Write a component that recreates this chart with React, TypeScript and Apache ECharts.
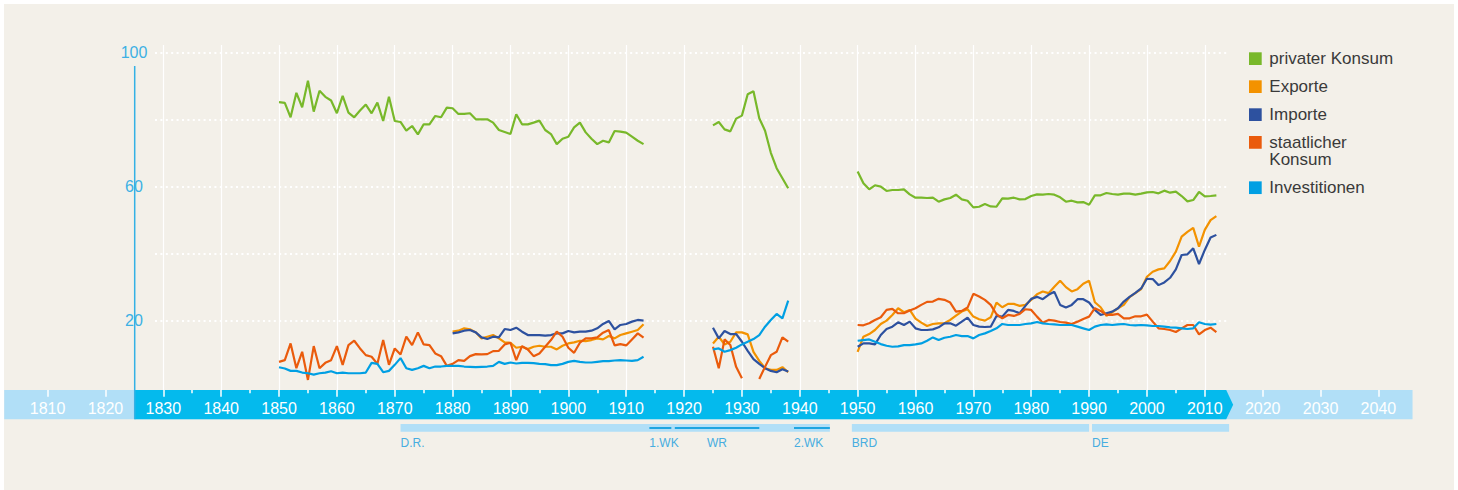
import React, { useEffect, useRef } from "react";
import * as echarts from "echarts";

// ---------- data ----------
const SERIES_NAMES = ["privater Konsum", "Exporte", "Importe", "staatlicher Konsum", "Investitionen"];
const COLORS = ["#78b82a", "#f39200", "#2d519f", "#ea5b0c", "#009fe3"];

// first year of each data segment
const START_A = 1850; // Kaiserreich (privat, staat, invest)
const START_A_TRADE = 1880; // Kaiserreich (exports / imports)
const START_B = 1925; // Weimar / NS
const START_C = 1950; // BRD / DE

const privatA = [
  85.1, 84.9, 80.6, 87.9, 83.6, 91.5, 82.3, 88.5, 86.7, 85.6,
  81.8, 87, 82, 80.6, 82.6, 84.4, 81.8, 85, 79.5, 86.7,
  79.5, 79.2, 76.6, 78, 75.5, 78.5, 78.5, 81, 80.6, 83.5,
  83.3, 81.6, 81.6, 81.8, 80, 80, 80, 79, 76.8, 76.2,
  75.6, 81.5, 78.5, 78.5, 79, 79.6, 76.8, 75.6, 72.6, 74.2,
  74.8, 77.6, 79, 76.1, 74.2, 72.6, 73.6, 73.1, 76.5, 76.3,
  76, 74.8, 73.6, 72.6,
];
const privatB = [78.2, 79.2, 77, 76.4, 80.2, 81.1, 87.5, 88.4, 80.3, 76.6, 70, 65.4, 62.4, 59.4];
const privatC = [
  64.4, 60.9, 59.1, 60.3, 59.9, 58.6, 58.9, 58.9, 59.1, 57.6,
  56.6, 56.6, 56.5, 56.6, 55.4, 56.1, 56.5, 57.5, 56.1, 55.7,
  53.7, 53.9, 54.7, 54, 53.9, 56.4, 56.3, 56.6, 56.1, 56.2,
  57.1, 57.6, 57.5, 57.7, 57.5, 56.7, 55.4, 55.7, 55.2, 55.3,
  54.5, 57.3, 57.3, 58, 57.7, 57.5, 57.8, 57.8, 57.5, 57.8,
  58.2, 58.3, 57.9, 58.7, 58.1, 58.4, 57.1, 55.5, 55.9, 58.3,
  57, 57.1, 57.3,
];

const exportA = [
  16.6, 16.9, 17.6, 17.3, 16.4, 14.6, 15.1, 15.6, 14.6, 13.4,
  13.3, 11.8, 12.1, 11.4, 12.1, 12.4, 12.1, 12.1, 11.3, 12.4,
  13.1, 13.4, 13.9, 13.8, 14.1, 14.6, 14.3, 15.3, 14.6, 15.6,
  16.1, 16.6, 17.1, 18.8,
];
const exportB = [13.1, 15.1, 12.8, 13.6, 16.4, 16.4, 15.8, 10.6, 7.9, 5.7, 5.2, 5.2, 6, 4.5];
const exportC = [
  10.6, 15.1, 15.9, 17.1, 18.9, 19.9, 21.6, 23.6, 22.4, 23.1,
  20.5, 19.3, 18.3, 18.9, 19.1, 19.1, 20.1, 21.4, 22.6, 23.3,
  21.1, 20.3, 19.9, 20.9, 25.3, 23.9, 24.9, 24.9, 24.3, 24.6,
  26.1, 27.8, 28.6, 28.1, 30, 31.8, 29.9, 28.6, 29.3, 30.9,
  31.8, 25.4, 23.9, 21.3, 22.4, 23.6, 24.6, 26.9, 28.1, 29.3,
  33, 34.5, 35.2, 35.5, 37.7, 40.5, 45, 46.4, 47.6, 42,
  47, 49.9, 51.1,
];

const importA = [
  16.1, 16.4, 16.9, 17.1, 16.4, 14.9, 14.4, 15.1, 14.9, 17.4,
  17.1, 17.8, 16.6, 15.6, 15.6, 15.6, 15.4, 15.6, 16.1, 16.1,
  16.8, 16.4, 16.6, 16.6, 16.9, 17.6, 18.9, 19.8, 17.3, 18.6,
  18.9, 19.6, 20.1, 19.9,
];
const importB = [17.8, 14.6, 16.8, 15.9, 15.9, 13.6, 10.9, 8.4, 7, 5.7, 4.9, 4.5, 5.4, 4.7];
const importC = [
  12.1, 13.1, 13.1, 12.8, 15.6, 17.4, 18.1, 19.4, 18.6, 19.6,
  17.6, 17.1, 17.1, 17.3, 17.9, 19.1, 19.1, 18.4, 19.6, 20.8,
  18.6, 18.1, 18, 18.1, 21.3, 21.1, 23.1, 22.8, 22.1, 24.3,
  26.4, 27, 26.3, 27.6, 28.5, 24.6, 23.8, 24.6, 26.3, 26.3,
  25.3, 23.1, 21.6, 22.1, 22.6, 23.6, 25.6, 27, 28.2, 29.5,
  32.4, 32.3, 30.5, 31.3, 32.7, 35.2, 39.5, 39.7, 41.5, 36.8,
  41, 44.7, 45.5,
];

const staatA = [
  7.6, 8.1, 13.1, 5.7, 10.6, 2.2, 12.3, 5.7, 7.3, 8.1,
  12.3, 6.7, 12.6, 13.9, 11.6, 9.6, 9.1, 7, 14.1, 6.7,
  11.6, 9.8, 15.1, 12.6, 16.4, 12.8, 12.6, 10.1, 9.3, 6.4,
  7, 8.1, 7.9, 9.3, 9.9, 9.8, 9.9, 10.8, 10.9, 12.8,
  13.3, 8.1, 12.3, 11.3, 9.3, 10.1, 12.1, 14.1, 16.6, 15.1,
  11.8, 10.3, 13.3, 14.6, 14.6, 14.9, 16.3, 17.1, 12.5, 12.9,
  12.5, 14.3, 16.1, 14.8,
];
const staatB = [12.1, 5.7, 14.3, 12.6, 6.1, 2.7, null, null, 2.5, 6.1, 9.6, 10.6, 14.9, 13.6];
const staatC = [
  18.6, 18.5, 19.1, 20.1, 20.9, 23.1, 23.4, 22.1, 22.1, 22.9,
  23.6, 24.6, 25.5, 25.6, 26.4, 26.1, 25.3, 22.6, 22.8, 23.8,
  27.9, 27.1, 26.1, 24.6, 21.8, 20.6, 21.6, 21.3, 21.9, 23.3,
  23.1, 21.1, 19.3, 20.1, 19.9, 19.5, 19.3, 18.9, 19.6, 20.4,
  21.1, 23.6, 22.8, 21.6, 21.6, 21.9, 20.6, 20.6, 21.2, 21.2,
  21.7, 19.6, 17.6, 17.4, 17.1, 16.5, 17.6, 18.6, 18.6, 15.8,
  17.1, 17.8, 16.5,
];

const investA = [
  6, 5.6, 4.9, 4.9, 4.4, 4.2, 3.8, 4.2, 4.4, 4.8,
  4.2, 4.4, 4.2, 4.2, 4.2, 4.4, 7.3, 7, 4.5, 4.9,
  6.7, 8.7, 5.7, 5.2, 5.7, 6.4, 5.7, 6.2, 6.2, 6.4,
  6.4, 6.4, 6.2, 6.1, 6, 6.1, 6.2, 6.4, 7.6, 7,
  7.4, 7.1, 7.3, 7.3, 7.2, 7, 6.9, 6.6, 6.6, 7,
  7.6, 7.9, 7.6, 7.4, 7.4, 7.6, 7.8, 7.8, 8, 8.1,
  8, 7.9, 8.1, 9.1,
];
const investB = [11.3, 11.6, 10.6, 11.1, 11.8, 12.8, 13.6, 14.4, 15.6, 18.1, 20.1, 21.9, 20.6, 25.9];
const investC = [
  13.9, 14.1, 14.3, 13.6, 12.9, 12.4, 12.1, 12.2, 12.6, 12.6,
  12.8, 13.1, 13.9, 14.9, 14.1, 14.8, 15.1, 15.6, 15.3, 15.3,
  14.6, 15.6, 16.1, 16.8, 17.6, 18.9, 18.6, 18.6, 18.6, 18.9,
  19.1, 19.5, 19.1, 18.9, 18.8, 18.6, 18.6, 18.6, 18.1, 17.6,
  17.1, 18.1, 18.6, 18.8, 18.6, 18.8, 18.9, 18.6, 18.5, 18.6,
  18.5, 18.3, 18.3, 18.1, 17.9, 17.8, 17.6, 17.4, 17.6, 19.4,
  18.9, 18.7, 18.9,
];

const Y_LABELS = [100, 60, 20];

// timeline (years)
const TIMELINE_LIGHT = [[1802.5, 2045.9]];
const TIMELINE_DARK = [[1825.06, 2013.7, 2014.9]];

const PERIOD_NAMES = ["D.R.", "BRD", "DE"];
const PERIOD_FROM = [1871, 1949, 1990.5];
const PERIOD_TO = [1945.2, 1990, 2014.2];

const SUB_NAMES = ["1.WK", "WR", "2.WK"];
const SUB_FROM = [1914, 1918.4, 1939];
const SUB_TO = [1917.8, 1933, 1945.2];

// ---------- helpers ----------
type Pt = [number, number | null];
function seg(start: number, values: (number | null)[]): Pt[] {
  return values.map((v, i) => [start + i, v] as Pt);
}
function joinSegs(...segs: Pt[][]): Pt[] {
  const out: Pt[] = [];
  segs.forEach((s, i) => {
    if (i > 0) out.push([s[0][0] - 1, null]);
    out.push(...s);
  });
  return out;
}

const SERIES_DATA: Pt[][] = [
  joinSegs(seg(START_A, privatA), seg(START_B, privatB), seg(START_C, privatC)),
  joinSegs(seg(START_A_TRADE, exportA), seg(START_B, exportB), seg(START_C, exportC)),
  joinSegs(seg(START_A_TRADE, importA), seg(START_B, importB), seg(START_C, importC)),
  joinSegs(seg(START_A, staatA), seg(START_B, staatB), seg(START_C, staatC)),
  joinSegs(seg(START_A, investA), seg(START_B, investB), seg(START_C, investC)),
];

const FONT = '"Liberation Sans", Arial, Helvetica, sans-serif';
const TALL_ICON =
  "path://M0,0L12.7,0L12.7,0.01L0,0.01ZM0,2.3L12.7,2.3L12.7,15L0,15ZM0,34.59L12.7,34.59L12.7,34.6L0,34.6Z";

export default function App() {
  const ref = useRef<HTMLDivElement>(null);

  useEffect(() => {
    if (!ref.current) return;
    const chart = echarts.init(ref.current, undefined, { renderer: "svg" });

    const legendBase = {
      orient: "vertical",
      left: 1249,
      padding: 0,
      itemWidth: 12.7,
      itemHeight: 12.7,
      itemGap: 10.7,
      icon: "rect",
      selectedMode: false,
      itemStyle: { borderWidth: 0 },
      textStyle: { fontSize: 17, lineHeight: 17.3, color: "#3a3a3a", fontFamily: FONT, padding: [0, 0, 0, 2.6] },
    };

    const option: any = {
      animation: false,
      textStyle: { fontFamily: FONT },
      grid: [
        { left: 155, top: 52.3, width: 1073, height: 335 },
        { left: 163.3, top: 45, width: 1041.5, height: 345 },
        { left: 47.6, top: 390, width: 1330.8, height: 29.3 },
        { left: 47.6, top: 424, width: 1330.8, height: 30 },
      ],
      xAxis: [
        { gridIndex: 0, type: "value", min: 1828.566, max: 2014.01, show: false },
        {
          gridIndex: 1,
          type: "value",
          min: 1830,
          max: 2010,
          interval: 10,
          axisLine: { show: false, onZero: false },
          axisTick: { show: false },
          axisLabel: { show: false },
          splitLine: { show: true, lineStyle: { color: "#ffffff", width: 1.2 } },
          minorTick: { show: true, splitNumber: 2, length: 3.3, lineStyle: { color: "#ffffff", width: 1.5 } },
        },
        {
          gridIndex: 2,
          type: "value",
          position: "top",
          min: 1810,
          max: 2040,
          interval: 10,
          axisLine: { show: false, onZero: false },
          axisTick: { show: true, inside: true, length: 6.7, lineStyle: { color: "#ffffff", width: 1.5 } },
          axisLabel: {
            inside: true,
            margin: 10,
            color: "#ffffff",
            fontSize: 16,
            showMinLabel: true,
            showMaxLabel: true,
            formatter: (v: number) => String(v),
          },
          splitLine: { show: false },
        },
        { gridIndex: 3, type: "value", min: 1810, max: 2040, show: false },
      ],
      yAxis: [
        {
          gridIndex: 0,
          type: "value",
          min: 0,
          max: 100,
          interval: 20,
          axisLine: { show: false },
          axisTick: { show: false },
          axisLabel: {
            margin: 21,
            align: "center",
            color: "#3db1e4",
            fontSize: 16,
            formatter: (v: number) => (Y_LABELS.indexOf(v) >= 0 ? String(v) : ""),
          },
          splitLine: { show: true, showMinLine: false, lineStyle: { color: "#ffffff", width: 2, type: [2, 3.4] } },
        },
        { gridIndex: 1, type: "value", min: 0, max: 1, show: false },
        { gridIndex: 2, type: "value", min: 0, max: 1, show: false },
        { gridIndex: 3, type: "value", min: 0, max: 1, show: false },
      ],
      legend: [
        { ...legendBase, top: 50, data: SERIES_NAMES.slice(0, 3) },
        {
          ...legendBase,
          top: 133.7,
          itemHeight: 34.6,
          data: [{ name: SERIES_NAMES[3], icon: TALL_ICON }],
          formatter: (name: string) => name.replace(" ", "\n"),
        },
        { ...legendBase, top: 179.05, data: [SERIES_NAMES[4]] },
      ],
      graphic: [
        {
          type: "line",
          shape: { x1: 134.7, y1: 66, x2: 134.7, y2: 419.3 },
          style: { stroke: "#34b1e5", lineWidth: 1.5 },
          z: 10,
        },
      ],
      series: [
        {
          type: "custom",
          name: "timeline-light",
          xAxisIndex: 2,
          yAxisIndex: 2,
          z: -1,
          clip: false,
          silent: true,
          data: TIMELINE_LIGHT,
          renderItem: (params: any, api: any) => {
            const x0 = api.coord([api.value(0), 0])[0];
            const x1 = api.coord([api.value(1), 0])[0];
            const cs = params.coordSys;
            return {
              type: "rect",
              shape: { x: x0, y: cs.y, width: x1 - x0, height: cs.height },
              style: { fill: "#b1dff7" },
            };
          },
        },
        {
          type: "custom",
          name: "timeline-dark",
          xAxisIndex: 2,
          yAxisIndex: 2,
          z: -1,
          clip: false,
          silent: true,
          data: TIMELINE_DARK,
          renderItem: (params: any, api: any) => {
            const x0 = api.coord([api.value(0), 0])[0];
            const x1 = api.coord([api.value(1), 0])[0];
            const xt = api.coord([api.value(2), 0])[0];
            const cs = params.coordSys;
            return {
              type: "polygon",
              shape: {
                points: [
                  [x0, cs.y],
                  [x1, cs.y],
                  [xt, cs.y + cs.height / 2],
                  [x1, cs.y + cs.height],
                  [x0, cs.y + cs.height],
                ],
              },
              style: { fill: "#04baed" },
            };
          },
        },
        {
          type: "custom",
          name: "periods",
          xAxisIndex: 3,
          yAxisIndex: 3,
          z: 1,
          clip: false,
          silent: true,
          data: PERIOD_FROM.map((f, i) => [f, PERIOD_TO[i]]),
          renderItem: (params: any, api: any) => {
            const i = params.dataIndex;
            const x0 = api.coord([api.value(0), 0])[0];
            const x1 = api.coord([api.value(1), 0])[0];
            const top = params.coordSys.y;
            return {
              type: "group",
              children: [
                { type: "rect", shape: { x: x0, y: top, width: x1 - x0, height: 7.7 }, style: { fill: "#b1dff7" } },
                {
                  type: "text",
                  style: {
                    text: PERIOD_NAMES[i],
                    x: x0,
                    y: top + 19.3,
                    fill: "#47ade0",
                    fontSize: 12,
                    fontFamily: FONT,
                    align: "left",
                    verticalAlign: "middle",
                  },
                },
              ],
            };
          },
        },
        {
          type: "custom",
          name: "subperiods",
          xAxisIndex: 3,
          yAxisIndex: 3,
          z: 2,
          clip: false,
          silent: true,
          data: SUB_FROM.map((f, i) => [f, SUB_TO[i]]),
          renderItem: (params: any, api: any) => {
            const i = params.dataIndex;
            const x0 = api.coord([api.value(0), 0])[0];
            const x1 = api.coord([api.value(1), 0])[0];
            const top = params.coordSys.y;
            const centered = SUB_NAMES[i] === "WR";
            return {
              type: "group",
              children: [
                { type: "rect", shape: { x: x0, y: top + 3, width: x1 - x0, height: 2 }, style: { fill: "#1ea5e1" } },
                {
                  type: "text",
                  style: {
                    text: SUB_NAMES[i],
                    x: centered ? (x0 + x1) / 2 : x0,
                    y: top + 19.3,
                    fill: "#47ade0",
                    fontSize: 12,
                    fontFamily: FONT,
                    align: centered ? "center" : "left",
                    verticalAlign: "middle",
                  },
                },
              ],
            };
          },
        },
        ...SERIES_NAMES.map((name, i) => ({
          type: "line",
          name,
          xAxisIndex: 0,
          yAxisIndex: 0,
          symbol: "none",
          showSymbol: false,
          connectNulls: false,
          z: 3,
          itemStyle: { color: COLORS[i] },
          lineStyle: { color: COLORS[i], width: 2.2 },
          data: SERIES_DATA[i],
        })),
      ],
    };

    chart.setOption(option);
    return () => chart.dispose();
  }, []);

  return (
    <div style={{ position: "absolute", left: 0, top: 0, width: 1458, height: 490, background: "#ffffff" }}>
      <div style={{ position: "absolute", left: 4, top: 4, width: 1450, height: 486, background: "#f3f0e9" }} />
      <div ref={ref} style={{ position: "absolute", left: 0, top: 0, width: 1458, height: 490 }} />
    </div>
  );
}
